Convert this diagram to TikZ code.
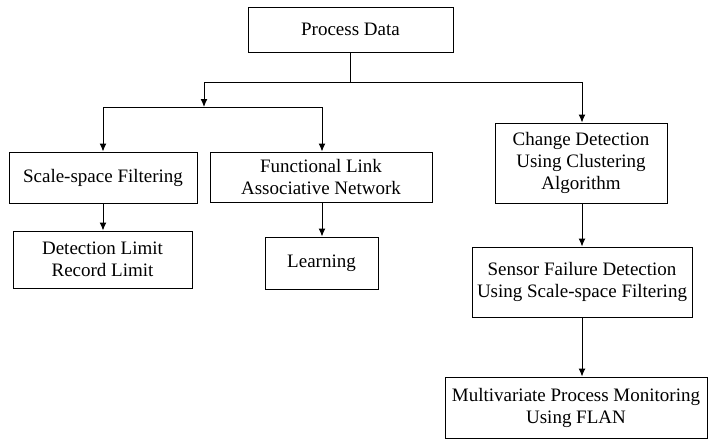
\documentclass[tikz,border=0pt]{standalone}
\usepackage{fontspec}
\setmainfont{Liberation Serif}
\usetikzlibrary{arrows.meta}
\begin{document}
\begin{tikzpicture}[x=1pt,y=-1pt,
  box/.style={draw=black, line width=1pt, inner sep=0pt, align=center,
    font=\fontsize{19}{22}\selectfont},
  link/.style={draw=black, line width=1pt},
  arr/.style={link, -{Latex[length=8pt,width=7pt]}}]
\useasboundingbox (0,0) rectangle (712,440);
\node[box, minimum width=205pt, minimum height=45pt] (pd) at (350.5,29.5) {Process Data};
\node[box, minimum width=188pt, minimum height=51pt] (ss) at (103,177.5) {Scale-space Filtering};
\node[box, minimum width=179pt, minimum height=57pt] (det) at (102.5,259.5) {Detection Limit\\Record Limit};
\node[box, minimum width=222pt, minimum height=50pt] (fl) at (321,177) {Functional Link\\Associative Network};
\node[box, minimum width=113pt, minimum height=52pt] (learn) at (321.5,263) {Learning};
\node[box, minimum width=172pt, minimum height=80pt] (cd) at (581,163) {Change Detection\\Using Clustering\\Algorithm};
\node[box, minimum width=220pt, minimum height=70pt] (sf) at (582,282) {Sensor Failure Detection\\Using Scale-space Filtering};
\node[box, minimum width=262pt, minimum height=61pt] (mv) at (576,407.5) {Multivariate Process Monitoring\\Using FLAN};
\coordinate (hl) at (204,82);
\coordinate (hr) at (582,82);
\coordinate (ml) at (103,107);
\coordinate (mr) at (322,107);
\draw[link] (pd.south) -- (pd.south |- hl);
\draw[link] (hl) -- (hr);
\draw[arr] (hl) -- (hl |- ml);
\draw[link] (ml) -- (mr);
\draw[arr] (ml) -- (ml |- ss.north);
\draw[arr] (mr) -- (mr |- fl.north);
\draw[arr] (hr) -- (hr |- cd.north);
\draw[arr] (ss.south) -- (ss.south |- det.north);
\draw[arr] (mr |- fl.south) -- (mr |- learn.north);
\draw[arr] (hr |- cd.south) -- (hr |- sf.north);
\draw[arr] (hr |- sf.south) -- (hr |- mv.north);
\end{tikzpicture}
\end{document}
